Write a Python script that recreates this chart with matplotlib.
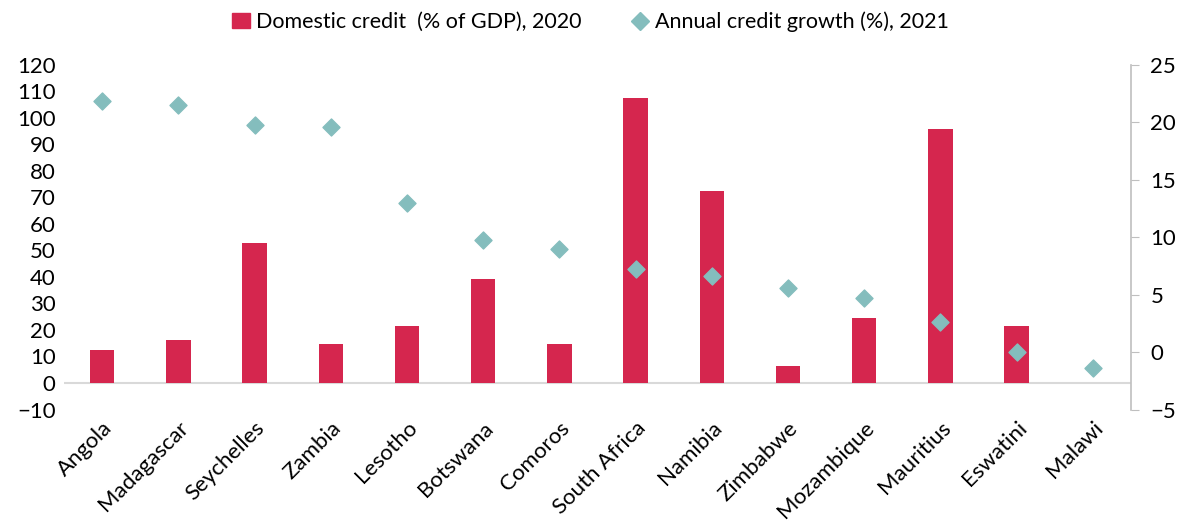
from matplotlib import pyplot as plt
from matplotlib.lines import Line2D
from matplotlib.patches import Patch
import numpy as np

plt.rcParams['font.family'] = ['Lato', 'DejaVu Sans']

countries = ['Angola', 'Madagascar', 'Seychelles', 'Zambia', 'Lesotho', 'Botswana',
             'Comoros', 'South Africa', 'Namibia', 'Zimbabwe', 'Mozambique',
             'Mauritius', 'Eswatini', 'Malawi']
credit_gdp = [12.5, 16.2, 52.8, 14.7, 21.5, 39.2, 14.7, 107.5, 72.5, 6.4, 24.5, 95.8, 21.5, 0]
credit_growth = [21.9, 21.5, 19.8, 19.6, 13.0, 9.8, 9.0, 7.2, 6.6, 5.6, 4.7, 2.6, 0.0, -1.4]

red = '#D5264E'
teal = '#84BDBD'
grey = '#BFBFBF'

fig = plt.figure(figsize=(11.81, 5.22), dpi=100)
ax = fig.add_axes([64/1181, 1-409.5/522, (1131-64)/1181, (409.5-65)/522])
x = np.arange(len(countries))
ax.bar(x, credit_gdp, width=0.32, color=red, zorder=2)
ax.axhline(0, color='#D9D9D9', lw=1.5, zorder=1)
ax.set_xlim(-0.5, len(countries)-0.5)
ax.set_ylim(-10, 120)
ax.set_yticks(np.arange(-10, 121, 10))
ax.set_xticks(x)
ax.set_xticklabels(countries, rotation=45, ha='right', rotation_mode='anchor')
ax.tick_params(axis='both', length=0, labelsize=16)
ax.tick_params(axis='x', pad=6)
ax.tick_params(axis='y', pad=6)
for s in ax.spines.values():
    s.set_visible(False)

ax2 = ax.twinx()
ax2.scatter(x, credit_growth, marker='D', s=75, color=teal, zorder=3)
ax2.set_ylim(-5, 25)
ax2.set_yticks(np.arange(-5, 26, 5))
ax2.tick_params(axis='y', length=6, color=grey, labelsize=16, pad=8)
for k in ['top', 'left', 'bottom']:
    ax2.spines[k].set_visible(False)
ax2.spines['right'].set_color(grey)
ax2.spines['right'].set_linewidth(1.2)

handles = [Patch(color=red, label='Domestic credit  (% of GDP), 2020'),
           Line2D([], [], marker='D', ls='', color=teal, markersize=9,
                  label='Annual credit growth (%), 2021')]
fig.legend(handles=handles, loc='upper center', bbox_to_anchor=(0.5, 1.015), ncol=2,
           frameon=False, fontsize=15.5, handlelength=0.8, handletextpad=0.3,
           columnspacing=2.3)

fig.savefig('out.png', dpi=100)
